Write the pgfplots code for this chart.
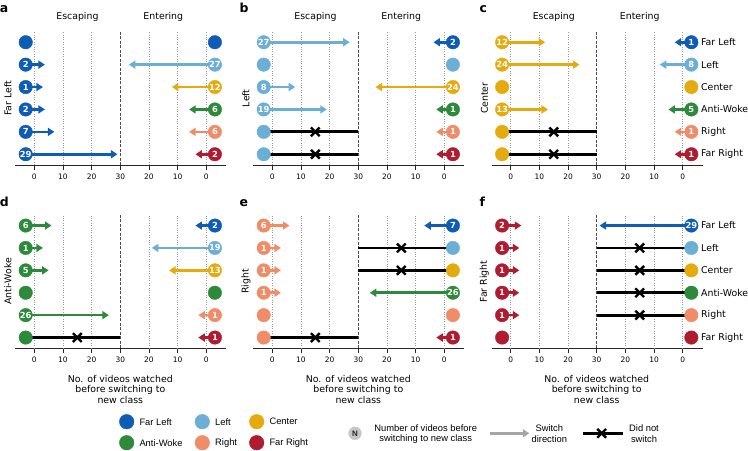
\documentclass[border=0pt]{standalone}
\usepackage{fontspec}
\setmainfont{DejaVu Sans}
\newfontfamily\arial{Liberation Sans}
\usepackage{pgfplots}
\pgfplotsset{compat=1.18}
\usetikzlibrary{arrows.meta}
\definecolor{cFL}{HTML}{0D5CB6}
\definecolor{cL}{HTML}{6BAED6}
\definecolor{cC}{HTML}{E5AB0E}
\definecolor{cAW}{HTML}{2D8A3A}
\definecolor{cR}{HTML}{F08D68}
\definecolor{cFR}{HTML}{AF1B2F}

\pgfplotsset{
  arr/.style={line width=2.6bp, -{Triangle[length=6.5bp,width=8bp]}},
  dot/.style={only marks, mark=*, mark size=6.75bp, color=#1, mark options={draw=none, fill=#1}},
  num/.style={point meta=explicit symbolic, nodes near coords, nodes near coords align={center},
    every node near coord/.append style={text=white, font=\bfseries\fontsize{8.4}{8.4}\selectfont, inner sep=0pt, anchor=center}},
  nsline/.style={black, line width=2.8bp},
  xm/.style={only marks, mark=x, mark size=6.2bp, black, mark options={line width=2.4bp}},
  panel/.style={scale only axis, width=211bp, height=133.5bp,
    xmin=-6.7, xmax=66.9, ymin=-0.48, ymax=5.48, clip=false,
    axis y line=none, axis x line=bottom,
    x axis line style={-, line width=1bp, black!85},
    xtick={0,10,20,30,40,50,60}, xticklabels={0,10,20,30,20,10,0},
    ytick=\empty, tick align=outside, major tick length=5bp,
    xtick style={line width=0.9bp, black!85},
    xticklabel style={font=\fontsize{7.5}{7.5}\selectfont, /pgf/number format/assume math mode=true},
    anchor=south west},
}
\newcommand{\grid}{%
  \pgfplotsinvokeforeach{0,10,20,40,50,60}{\draw[black!40, line width=0.8bp, dash pattern=on 0.8bp off 1.6bp] (axis cs:##1,-0.48) -- (axis cs:##1,5.48);}
  \draw[black!70, line width=0.8bp, dash pattern=on 3bp off 1.5bp] (axis cs:30,-0.48) -- (axis cs:30,5.48);}
% left side
\newcommand{\La}[4]{\addplot[arr, color=#4] coordinates {(-3,#1) (#3,#1)};
  \addplot[dot=#4, num] coordinates {(-3,#1) [#2]};}
\newcommand{\Ls}[2]{\addplot[dot=#2] coordinates {(-3,#1)};}
\newcommand{\Ln}[2]{\addplot[nsline] coordinates {(-3,#1) (30,#1)};
  \addplot[xm] coordinates {(15,#1)};
  \addplot[dot=#2] coordinates {(-3,#1)};}
% right side
\newcommand{\Ra}[4]{\addplot[arr, color=#4] coordinates {(63,#1) (#3,#1)};
  \addplot[dot=#4, num] coordinates {(63,#1) [#2]};}
\newcommand{\Rs}[2]{\addplot[dot=#2] coordinates {(63,#1)};}
\newcommand{\Rn}[2]{\addplot[nsline] coordinates {(30,#1) (63,#1)};
  \addplot[xm] coordinates {(45,#1)};
  \addplot[dot=#2] coordinates {(63,#1)};}

\newcommand{\fs}{\fontsize{9.4}{10.8}\selectfont}
\newcommand{\xlab}[1]{%
  \node[anchor=base, inner sep=0pt, font=\fs] at (axis cs:#1,-382) {No. of videos watched};
  \node[anchor=base, inner sep=0pt, font=\fs] at (axis cs:#1,-392.8) {before switching to};
  \node[anchor=base, inner sep=0pt, font=\fs] at (axis cs:#1,-403.6) {new class};}
\newcommand{\heads}[1]{%
  \node[font=\fs] at (axis cs:77.4+#1,-16.7) {Escaping};
  \node[font=\fs] at (axis cs:163.3+#1,-16.7) {Entering};}
\newcommand{\rlabels}[1]{%
  \node[anchor=west, inner sep=0pt, font=\fs] at (axis cs:701,-42.2-#1) {Far Left};
  \node[anchor=west, inner sep=0pt, font=\fs] at (axis cs:701,-64.6-#1) {Left};
  \node[anchor=west, inner sep=0pt, font=\fs] at (axis cs:701,-87.0-#1) {Center};
  \node[anchor=west, inner sep=0pt, font=\fs] at (axis cs:701,-109.4-#1) {Anti-Woke};
  \node[anchor=west, inner sep=0pt, font=\fs] at (axis cs:701,-131.8-#1) {Right};
  \node[anchor=west, inner sep=0pt, font=\fs] at (axis cs:701,-154.2-#1) {Far Right};}

\begin{document}
\begin{tikzpicture}
\useasboundingbox (0,0) rectangle (748bp,-451bp);

% ---- a: Far Left
\begin{axis}[panel, at={(15.1bp,-165bp)}]
\grid
\Ls{5}{cFL} \La{4}{2}{3.7}{cFL} \La{3}{1}{3}{cFL} \La{2}{2}{3.7}{cFL} \La{1}{7}{7}{cFL} \La{0}{29}{29}{cFL}
\Rs{5}{cFL} \Ra{4}{27}{33}{cL} \Ra{3}{12}{48}{cC} \Ra{2}{6}{54}{cAW} \Ra{1}{6}{54}{cR} \Ra{0}{2}{56.2}{cFR}
\end{axis}

% ---- b: Left
\begin{axis}[panel, at={(253.1bp,-165bp)}]
\grid
\La{5}{27}{27}{cL} \Ls{4}{cL} \La{3}{8}{8}{cL} \La{2}{19}{19}{cL} \Ln{1}{cL} \Ln{0}{cL}
\Ra{5}{2}{56.2}{cFL} \Rs{4}{cL} \Ra{3}{24}{36}{cC} \Ra{2}{1}{57.2}{cAW} \Ra{1}{1}{57.2}{cR} \Ra{0}{1}{57.2}{cFR}
\end{axis}

% ---- c: Center
\begin{axis}[panel, at={(491.5bp,-165bp)}]
\grid
\La{5}{12}{12}{cC} \La{4}{24}{24}{cC} \Ls{3}{cC} \La{2}{13}{13}{cC} \Ln{1}{cC} \Ln{0}{cC}
\Ra{5}{1}{57.2}{cFL} \Ra{4}{8}{52}{cL} \Rs{3}{cC} \Ra{2}{5}{55}{cAW} \Ra{1}{1}{57.2}{cR} \Ra{0}{1}{57.2}{cFR}
\end{axis}

% ---- d: Anti-Woke
\begin{axis}[panel, at={(15.1bp,-348.3bp)}]
\grid
\La{5}{6}{6}{cAW} \La{4}{1}{3}{cAW} \La{3}{5}{5}{cAW} \Ls{2}{cAW} \La{1}{26}{26}{cAW} \Ln{0}{cAW}
\Ra{5}{2}{56.2}{cFL} \Ra{4}{19}{41}{cL} \Ra{3}{13}{47}{cC} \Rs{2}{cAW} \Ra{1}{1}{57.2}{cR} \Ra{0}{1}{57.2}{cFR}
\end{axis}

% ---- e: Right
\begin{axis}[panel, at={(253.1bp,-348.3bp)}]
\grid
\La{5}{6}{6}{cR} \La{4}{1}{3}{cR} \La{3}{1}{3}{cR} \La{2}{1}{3}{cR} \Ls{1}{cR} \Ln{0}{cR}
\Ra{5}{7}{53}{cFL} \Rn{4}{cL} \Rn{3}{cC} \Ra{2}{26}{34}{cAW} \Rs{1}{cR} \Ra{0}{1}{57.2}{cFR}
\end{axis}

% ---- f: Far Right
\begin{axis}[panel, at={(491.5bp,-348.3bp)}]
\grid
\La{5}{2}{3.7}{cFR} \La{4}{1}{3}{cFR} \La{3}{1}{3}{cFR} \La{2}{1}{3}{cFR} \La{1}{1}{3}{cFR} \Ls{0}{cFR}
\Ra{5}{29}{31}{cFL} \Rn{4}{cL} \Rn{3}{cC} \Rn{2}{cAW} \Rn{1}{cR} \Rs{0}{cFR}
\end{axis}

% ---- overlay: texts and legend
\begin{axis}[at={(0bp,0bp)}, anchor=north west, scale only axis, width=748bp, height=451bp,
  xmin=0, xmax=748, ymin=-451, ymax=0, hide axis, clip=false]
\node[anchor=base west, inner sep=0pt, font=\bfseries\fontsize{12.5}{12.5}\selectfont] at (axis cs:-0.3,-12.7) {a};
\node[anchor=base west, inner sep=0pt, font=\bfseries\fontsize{12.5}{12.5}\selectfont] at (axis cs:239.5,-12.7) {b};
\node[anchor=base west, inner sep=0pt, font=\bfseries\fontsize{12.5}{12.5}\selectfont] at (axis cs:479.5,-12.7) {c};
\node[anchor=base west, inner sep=0pt, font=\bfseries\fontsize{12.5}{12.5}\selectfont] at (axis cs:-0.3,-206.7) {d};
\node[anchor=base west, inner sep=0pt, font=\bfseries\fontsize{12.5}{12.5}\selectfont] at (axis cs:239.5,-206.7) {e};
\node[anchor=base west, inner sep=0pt, font=\bfseries\fontsize{12.5}{12.5}\selectfont] at (axis cs:479.5,-206.7) {f};
\heads{0} \heads{238} \heads{476.4}
\node[rotate=90, font=\fs] at (axis cs:8,-98.2) {Far Left};
\node[rotate=90, font=\fs] at (axis cs:246,-98.2) {Left};
\node[rotate=90, font=\fs] at (axis cs:484.4,-98.2) {Center};
\node[rotate=90, font=\fs] at (axis cs:8,-281.5) {Anti-Woke};
\node[rotate=90, font=\fs] at (axis cs:246,-281.5) {Right};
\node[rotate=90, font=\fs] at (axis cs:484.4,-281.5) {Far Right};
\rlabels{0} \rlabels{183.3}
\xlab{120.3} \xlab{358.3} \xlab{596.7}
% legend: classes
\addplot[dot=cFL, mark size=7.3bp] coordinates {(126.7,-421.7)};
\addplot[dot=cL, mark size=7.3bp] coordinates {(202.3,-421.7)};
\addplot[dot=cC, mark size=7.3bp] coordinates {(256.7,-421.7)};
\addplot[dot=cAW, mark size=7.3bp] coordinates {(126.7,-442.7)};
\addplot[dot=cR, mark size=7.3bp] coordinates {(202.3,-442.7)};
\addplot[dot=cFR, mark size=7.3bp] coordinates {(256.7,-442.7)};
\node[anchor=west, inner sep=0pt, font=\arial\fontsize{9.4}{10.8}\selectfont] at (axis cs:139.3,-421.7) {Far Left};
\node[anchor=west, inner sep=0pt, font=\arial\fontsize{9.4}{10.8}\selectfont] at (axis cs:215,-421.7) {Left};
\node[anchor=west, inner sep=0pt, font=\arial\fontsize{9.4}{10.8}\selectfont] at (axis cs:269.3,-421.7) {Center};
\node[anchor=west, inner sep=0pt, font=\arial\fontsize{9.4}{10.8}\selectfont] at (axis cs:139.3,-442.7) {Anti-Woke};
\node[anchor=west, inner sep=0pt, font=\arial\fontsize{9.4}{10.8}\selectfont] at (axis cs:215,-442.7) {Right};
\node[anchor=west, inner sep=0pt, font=\arial\fontsize{9.4}{10.8}\selectfont] at (axis cs:269.3,-442.7) {Far Right};
% legend: symbols
\addplot[only marks, mark=*, mark size=6.4bp, color=black!22, point meta=explicit symbolic, nodes near coords, nodes near coords align={center},
  every node near coord/.append style={text=black!85, font=\arial\bfseries\fontsize{8}{8}\selectfont, inner sep=0pt, anchor=center}] coordinates {(355,-433.3) [N]};
\node[font=\arial\fontsize{9.4}{10.8}\selectfont] at (axis cs:425.7,-428.3) {Number of videos before};
\node[font=\arial\fontsize{9.4}{10.8}\selectfont] at (axis cs:425.7,-439) {switching to new class};
\addplot[arr, color=black!35] coordinates {(490,-433.3) (529.3,-433.3)};
\node[font=\arial\fontsize{9.4}{10.8}\selectfont] at (axis cs:549.3,-428.3) {Switch};
\node[font=\arial\fontsize{9.4}{10.8}\selectfont] at (axis cs:549.3,-439) {direction};
\addplot[nsline] coordinates {(582.7,-433.3) (622.7,-433.3)};
\addplot[xm] coordinates {(601.7,-433.3)};
\node[font=\arial\fontsize{9.4}{10.8}\selectfont] at (axis cs:644,-428.3) {Did not};
\node[font=\arial\fontsize{9.4}{10.8}\selectfont] at (axis cs:644,-439) {switch};
\end{axis}
\end{tikzpicture}
\end{document}
